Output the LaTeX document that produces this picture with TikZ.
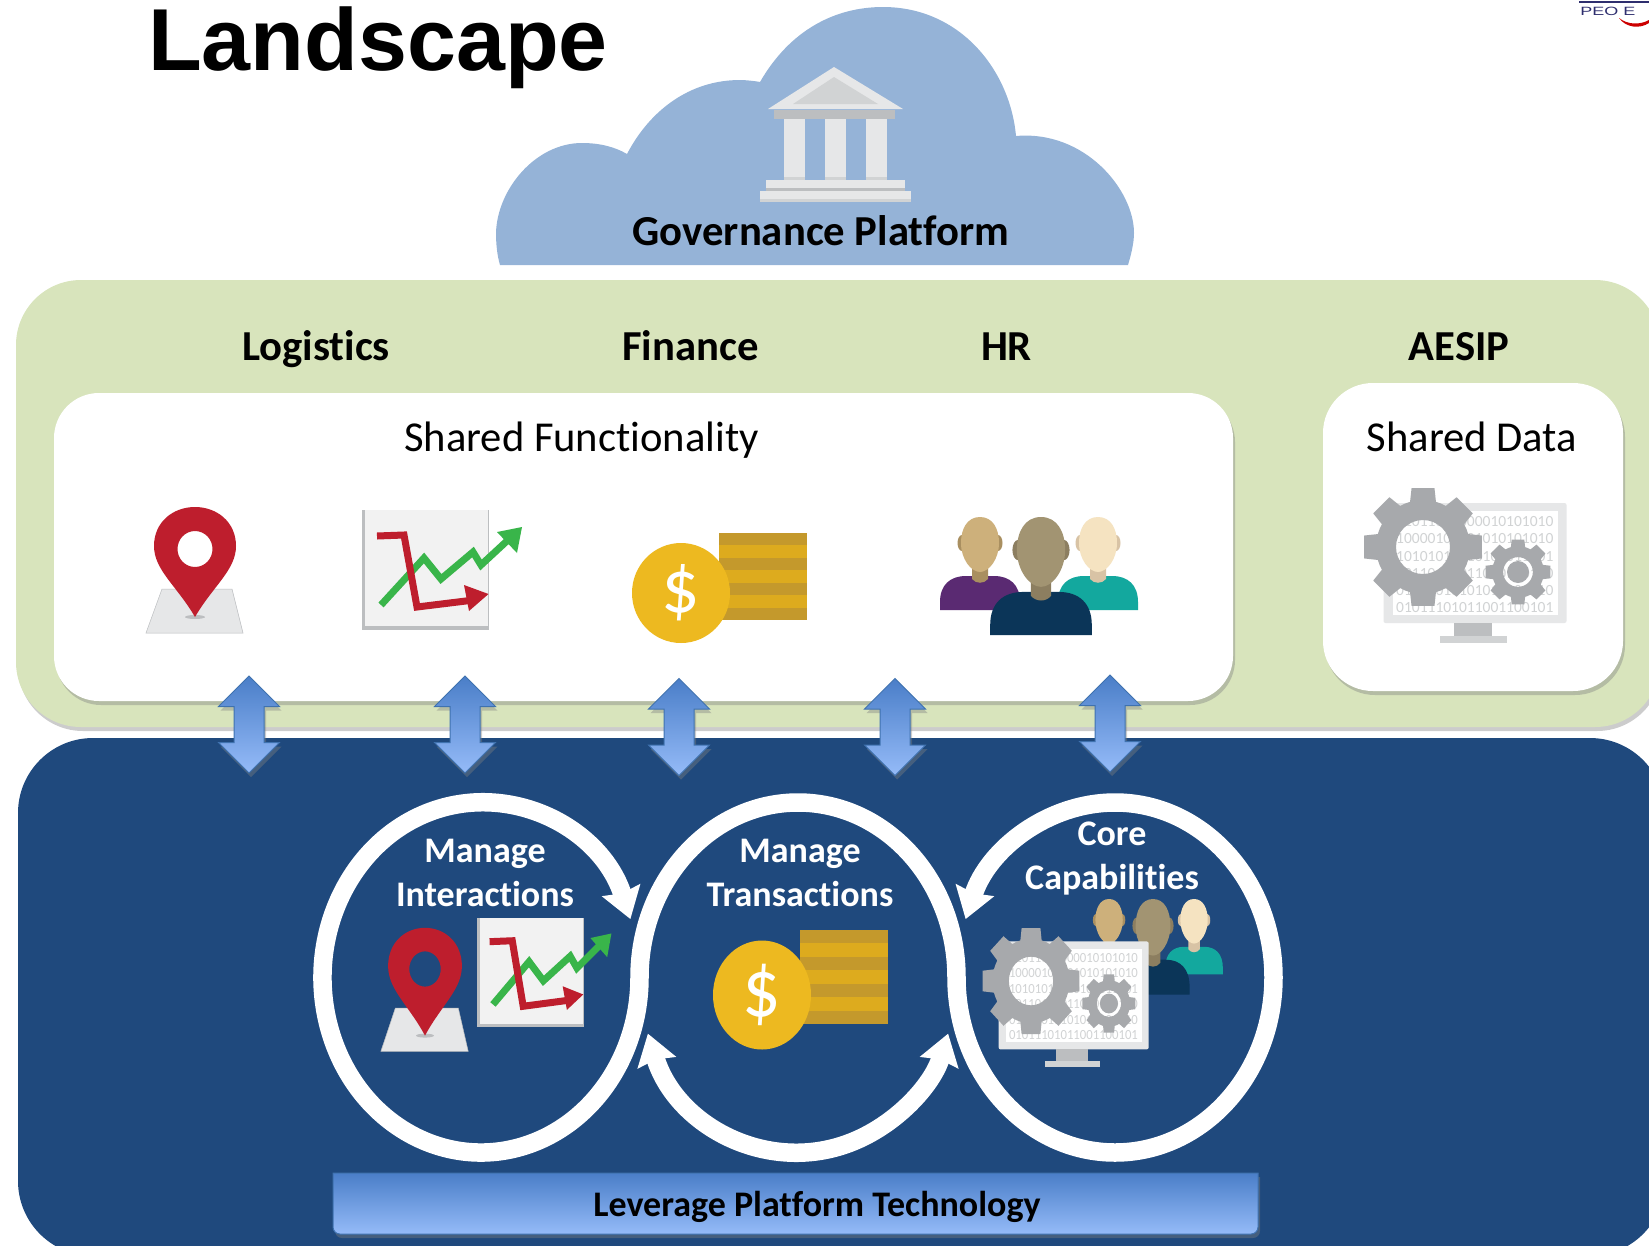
\documentclass[tikz,border=0pt]{standalone}
\usepackage{fontspec}
\setmainfont{Carlito}[Ligatures=NoCommon]
\newfontfamily\titlefont{Liberation Sans}
\usepackage{tikz}
\usetikzlibrary{arrows.meta,shapes.arrows,shadows,calc}

\definecolor{panelgreen}{HTML}{D8E4BC}
\definecolor{panelblue}{HTML}{1F497D}
\definecolor{cloudblue}{HTML}{95B3D7}
\definecolor{arrowtop}{HTML}{4A7EC8}
\definecolor{arrowbot}{HTML}{95BBF8}
\definecolor{arrowline}{HTML}{3F72AF}
\definecolor{pinred}{HTML}{BE1E2D}
\definecolor{chartgreen}{HTML}{39B54A}
\definecolor{coinyel}{HTML}{EDB920}
\definecolor{stackdark}{HTML}{C4992C}
\definecolor{stacklight}{HTML}{DDAB1E}
\definecolor{gearcol}{HTML}{A7A9AC}
\definecolor{pale}{HTML}{E6E7E8}
\definecolor{midgray}{HTML}{BCBEC0}
\definecolor{ligray}{HTML}{D1D3D4}
\definecolor{logonavy}{HTML}{2E2E6E}
\definecolor{shirtA}{HTML}{5A2A72}
\definecolor{skinA}{HTML}{CDB07B}
\definecolor{neckA}{HTML}{A98F60}
\definecolor{shirtB}{HTML}{0B3558}
\definecolor{skinB}{HTML}{A29472}
\definecolor{neckB}{HTML}{8C7E60}
\definecolor{shirtC}{HTML}{13A89E}
\definecolor{skinC}{HTML}{F5E3C1}
\definecolor{neckC}{HTML}{D8C3A5}

\newcommand{\drawperson}[6]{
\begin{scope}[shift={(#1,#2)},scale=#3]
\fill[#4] (-40,93) -- (-40,85) .. controls (-40,68) and (-30,59) .. (-14,59) -- (14,59) .. controls (30,59) and (40,68) .. (40,85) -- (40,93) -- cycle;
\fill[#6] (-8,45) -- (-8,62) .. controls (-4,67) and (4,67) .. (8,62) -- (8,45) -- cycle;
\fill[#6] (-18,26) ellipse [x radius=4.5,y radius=8];
\fill[#6] (18,26) ellipse [x radius=4.5,y radius=8];
\fill[#5] (0,0) .. controls (13,0) and (19,12) .. (19,26) .. controls (19,42) and (9,55) .. (0,55) .. controls (-9,55) and (-19,42) .. (-19,26) .. controls (-19,12) and (-13,0) .. (0,0) -- cycle;
\end{scope}
}

\tikzset{
  panel/.style={inner sep=0pt,outer sep=0pt,anchor=north west},
  softshadow/.style={drop shadow={shadow xshift=2pt,shadow yshift=-4pt,opacity=.4}},
  headtext/.style={font=\fontsize{42.7}{46}\selectfont\bfseries,inner sep=0pt,anchor=base},
  boxtext/.style={font=\fontsize{42.6}{46}\selectfont,inner sep=0pt,anchor=base},
  looptext/.style={font=\fontsize{36}{44}\selectfont\bfseries,text=white,align=center,inner sep=0pt},
  dblarrow/.style={double arrow,shape border rotate=90,inner sep=14.5pt,outer sep=0pt,
    minimum width=60pt,minimum height=97pt,double arrow head extend=15.5pt,
    top color=arrowtop,bottom color=arrowbot,draw=arrowline,line width=1pt,softshadow},
  ringline/.style={draw=white,line width=18.5pt,
    {Stealth[inset=3pt,length=30pt,width=39pt,fill=white]}-{Stealth[inset=3pt,length=30pt,width=39pt,fill=white]}},
  binfont/.style={font=\fontsize{15.5}{17}\selectfont,text=ligray,inner sep=0pt,anchor=base west,transform shape},
  pinicon/.pic={
    \fill[pale,draw=midgray,line width=.5pt] (-33,41) -- (37,41) -- (48,85) -- (-49,85) -- cycle;
    \fill[midgray] (0,69) ellipse [x radius=10,y radius=2];
    \fill[pinred,even odd rule] (0,69) .. controls (-18,38) and (-41,22) .. (-41,-2) .. controls (-41,-26) and (-22,-41) .. (0,-41) .. controls (22,-41) and (41,-26) .. (41,-2) .. controls (41,22) and (18,38) .. (0,69) -- cycle (0,1) ellipse [x radius=17.5,y radius=18];
  },
  charticon/.pic={
    \fill[midgray] (0,0) rectangle (127,120);
    \fill[black!5] (3,0) rectangle (126,116);
    \draw[chartgreen,line width=7pt] (19,95) -- (62,48) -- (79,69) -- (111,42) -- (119,55) -- (146,30);
    \fill[chartgreen] (160,17) -- (135,22) -- (155,43) -- cycle;
    \draw[pinred,line width=7pt] (15,26) -- (42,25) -- (55,97) -- (112,90);
    \fill[pinred] (126.5,84) -- (102,75) -- (107,101) -- cycle;
  },
  coinicon/.pic={
    \fill[stackdark] (38,-60) rectangle (126,27);
    \foreach \band in {1,3,5} {
      \fill[stacklight] (38,-60+\band*12.43) rectangle (126,-60+\band*12.43+12.43);
    }
    \fill[coinyel] (0,0) ellipse [x radius=49,y radius=50];
    \node[text=white,font=\fontsize{76}{76}\selectfont,transform shape,inner sep=0pt] (dollar) at (0,0) {\$};
  },
  peopleicon/.pic={
    \drawperson{-61}{0}{1}{shirtA}{skinA}{neckA}
    \drawperson{57}{0}{1}{shirtC}{skinC}{neckC}
    \drawperson{0}{0}{1.27}{shirtB}{skinB}{neckB}
  },
  gearicon/.pic={
    \fill[gearcol,even odd rule] (-16:47)
      \foreach \a in {0,45,...,315} {
        -- (\a-16:47) -- (\a-11:60) -- (\a+11:60) -- (\a+16:47) -- (\a+22.5:47)
      } -- cycle (0,0) circle [radius=27];
  },
  screenicon/.pic={
    \fill[pale,rounded corners=2pt] (-39.5,-44) rectangle (143.5,76);
    \fill[white] (-30,-36) rectangle (135,68);
    \fill[midgray] (31,76) rectangle (69,89);
    \fill[ligray] (17,89) rectangle (84,96);
    \node[binfont] (binA) at (-27,-21) {01011010000010101010};
    \node[binfont] (binB) at (-27,-4) {10000101001010101010};
    \node[binfont] (binC) at (-27,14) {10101010110101011101};
    \node[binfont] (binD) at (-27,31) {10110101011010110100};
    \node[binfont] (binE) at (-27,48) {01011010101010101010};
    \node[binfont] (binF) at (-27,65) {01011101011001100101};
    \pic[transform shape] {gearicon};
    \pic[transform shape,scale=.55] at (95,25) {gearicon};
    \fill[gearcol] (95,25) ellipse [x radius=11,y radius=11];
  },
  templeicon/.pic={
    \fill[pale] (834,67) -- (903,109) -- (768,109) -- cycle;
    \fill[ligray] (834,77) -- (878,104) -- (793,104) -- cycle;
    \fill[midgray] (774,110) rectangle (895,119);
    \foreach \c in {784,825,866} {
      \fill[pale] (\c,119) rectangle (\c+21,180);
      \fill[ligray] (\c,177) rectangle (\c+21,180);
    }
    \fill[pale] (766,180) rectangle (905,191);
    \fill[midgray] (766,188) rectangle (905,191);
    \fill[pale] (760,191) rectangle (911,202);
    \fill[ligray] (760,199) rectangle (911,202);
  }
}

\begin{document}
\begin{tikzpicture}[x=1pt,y=-1pt]
\useasboundingbox (0,0) rectangle (1649,1245);
\clip (0,0) rectangle (1649,1245);

\node[anchor=base west,inner sep=0pt,font=\fontsize{88}{90}\selectfont\titlefont\bfseries] (title) at (148,70) {Landscape};

% logo corner
\fill[logonavy] (1579,1) rectangle (1649,2.5);
\node[anchor=base west,inner sep=0pt,text=logonavy,font=\fontsize{12}{12}\selectfont\titlefont,xscale=1.5] (logo) at (1580,15) {PEO E};
\fill[red!80!black] (1619,18) .. controls (1628,25) and (1640,25) .. (1649,20) -- (1649,23) .. controls (1640,29) and (1626,28) .. (1619,18) -- cycle;

% cloud
\fill[cloudblue] (500,265) .. controls (497,255) and (496,243) .. (496,233) .. controls (497,190) and (535,143) .. (582,143) .. controls (600,143) and (615,147) .. (627,154) .. controls (650,110) and (690,80) .. (740,80) .. controls (745,80) and (755,81) .. (760,82) .. controls (790,30) and (835,7) .. (883,7) .. controls (960,7) and (1010,70) .. (1016,136) .. controls (1085,130) and (1134,190) .. (1134,233) .. controls (1134,243) and (1131,255) .. (1128,265) -- cycle;
\pic {templeicon};
\node[headtext] (govern) at (821,245) {Governance Platform};

% panels
\node[panel,fill=panelgreen,rounded corners=65pt,minimum width=1644pt,minimum height=447pt,softshadow] (greenpanel) at (16,280) {};
\node[panel,fill=white,rounded corners=45pt,minimum width=1179pt,minimum height=308pt,softshadow] (sharedfn) at (54,393) {};
\node[panel,fill=white,rounded corners=50pt,minimum width=300pt,minimum height=308pt,softshadow] (shareddata) at (1323,383) {};
\node[panel,fill=panelblue,rounded corners=75pt,minimum width=1647pt,minimum height=518pt] (bluepanel) at (18,738) {};

\node[headtext] (logistics) at (316,360.5) {Logistics};
\node[headtext] (finance) at (690.5,360.5) {Finance};
\node[headtext] (hr) at (1006.5,360.5) {HR};
\node[headtext] (aesip) at (1459,360.5) {AESIP};
\node[boxtext] (fntext) at (581.5,451.5) {Shared Functionality};
\node[boxtext] (datatext) at (1472,451.5) {Shared Data};

\pic at (195,548) {pinicon};
\pic at (362,510) {charticon};
\pic at (681,593) {coinicon};
\pic at (1041,517) {peopleicon};
\pic at (1423,547) {screenicon};

% double arrows
\foreach \ax/\ay [count=\i] in {249/724.5,465/724.5,679/727,895/727,1110/723.5} {
  \node[dblarrow] (updown\i) at (\ax,\ay) {};
}

% rings
\coordinate (ringL) at (481,977.5);
\coordinate (ringM) at (798,977.5);
\coordinate (ringR) at (1115,977.5);
\draw[ringline] ([shift={(19.5:158.5pt and 175pt)}]ringL)
  arc[start angle=19.5,end angle=360,x radius=158.5pt,y radius=175pt]
  arc[start angle=180,end angle=0,x radius=158.5pt,y radius=175pt]
  arc[start angle=180,end angle=520.5,x radius=158.5pt,y radius=175pt];
\draw[ringline] ([shift={(198.7:158.5pt and 175pt)}]ringM)
  arc[start angle=198.7,end angle=341.3,x radius=158.5pt,y radius=175pt];

\node[looptext] (interact) at (485,873) {Manage\\Interactions};
\node[looptext] (transact) at (800,873) {Manage\\Transactions};
\node[looptext] (corecap) at (1112,859) {Core\\Capabilities};

\pic[xscale=.9,yscale=.98] at (425,968) {pinicon};
\pic[xscale=.84,yscale=.91] at (477,918) {charticon};
\pic[xscale=1,yscale=1.09] at (762,995) {coinicon};
\pic[xscale=.72,yscale=.81] at (1153,899) {peopleicon};
\pic[xscale=.82,yscale=.9] at (1031,981) {screenicon};

% bar
\shade[top color=arrowtop,bottom color=arrowbot,draw=arrowline,line width=1pt,softshadow] (333,1173) -- (1258,1173) [rounded corners=7pt] -- (1258,1234) -- (333,1234) [sharp corners] -- cycle;
\node[looptext,text=black] (leverage) at (817,1207) {Leverage Platform Technology};
\end{tikzpicture}
\end{document}
